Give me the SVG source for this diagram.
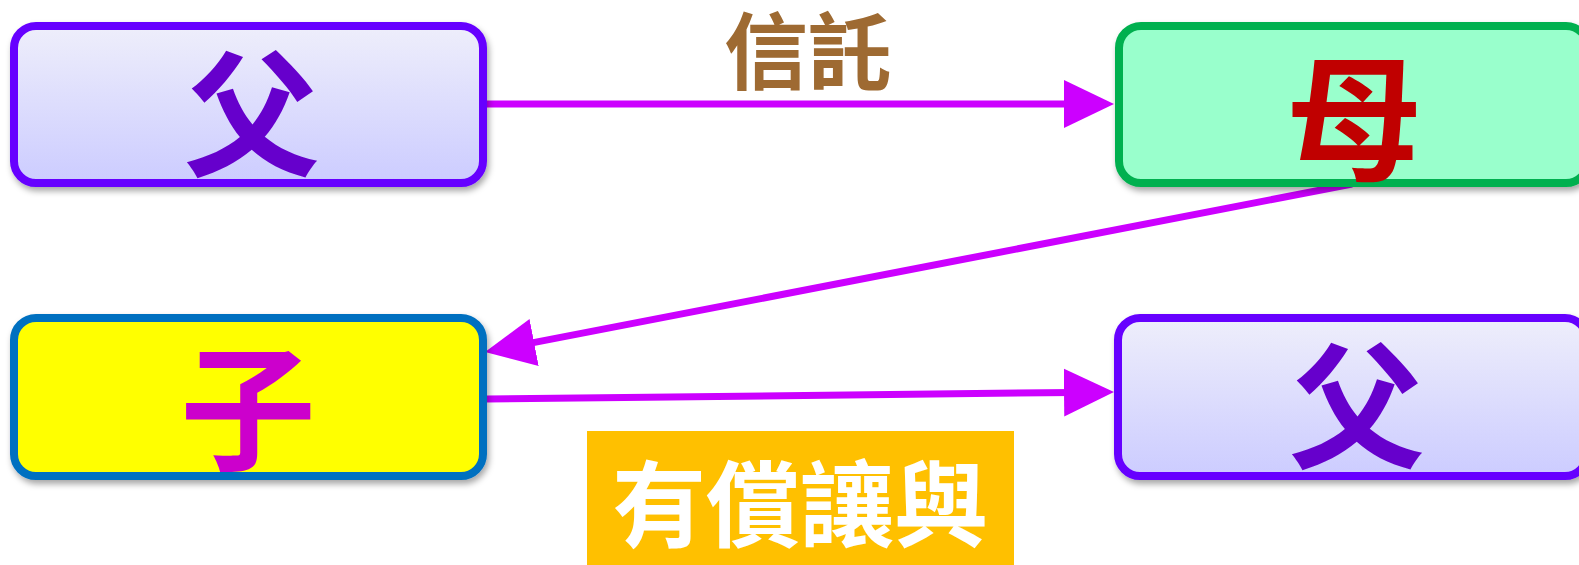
<svg xmlns="http://www.w3.org/2000/svg" width="1579" height="565" viewBox="0 0 1579 565">
<style>
.box{stroke-width:8}
.lav{fill:url(#lavgrad);stroke:#6600FF}
.big{font-family:"Noto Sans CJK TC","Noto Sans CJK SC",sans-serif;font-weight:700;font-size:136px;text-anchor:middle}
.conn{stroke:#CC00FF;stroke-width:7;fill:none}
.lbl{font-family:"Noto Sans CJK TC","Noto Sans CJK SC",sans-serif;font-weight:700;text-anchor:middle}
</style>
<defs>
<linearGradient id="lavgrad" x1="0" y1="0" x2="0" y2="1">
<stop offset="0" stop-color="#EEEEFB"/>
<stop offset="1" stop-color="#CCCCFF"/>
</linearGradient>
<filter id="sh" x="-5%" y="-10%" width="115%" height="130%">
<feDropShadow dx="2" dy="4" stdDeviation="3" flood-color="#000" flood-opacity="0.35"/>
</filter>
<marker id="ah" markerUnits="userSpaceOnUse" markerWidth="52" markerHeight="50" refX="10" refY="24" orient="auto">
<path d="M0,0 L50,24 L0,48 Z" fill="#CC00FF"/>
</marker>
</defs>
<rect width="1579" height="565" fill="#FFFFFF"/>
<g id="connectors">
<line class="conn" x1="487" y1="104" x2="1074" y2="104" marker-end="url(#ah)"/>
<line class="conn" x1="1352" y1="184" x2="524.3" y2="344.4" marker-end="url(#ah)"/>
<line class="conn" x1="487" y1="399" x2="1074" y2="392.4" marker-end="url(#ah)"/>
</g>
<g id="label-trust">
<text class="lbl" x="808" y="83" font-size="84" fill="#9E6A32">信託</text>
</g>
<g id="label-sale">
<rect x="587" y="431" width="427" height="134" fill="#FFC000"/>
<text class="lbl" x="800" y="540" font-size="94" fill="#FFFFFF">有償讓與</text>
</g>
<g id="node-father1" filter="url(#sh)">
<rect class="box lav" x="14" y="26" width="469" height="157" rx="22"/>
<text class="big" x="252" y="166" fill="#6600CC">父</text>
</g>
<g id="node-mother" filter="url(#sh)">
<rect class="box" x="1119" y="26" width="469" height="157" rx="22" fill="#99FFCC" stroke="#00B050"/>
<text class="big" x="1354" y="170" fill="#C00000">母</text>
</g>
<g id="node-child" filter="url(#sh)">
<rect class="box" x="14" y="318" width="469" height="158" rx="22" fill="#FFFF00" stroke="#0070C0"/>
<text class="big" x="248" y="460" fill="#CC00CC">子</text>
</g>
<g id="node-father2" filter="url(#sh)">
<rect class="box lav" x="1118" y="318" width="469" height="158" rx="22"/>
<text class="big" x="1357" y="458" fill="#6600CC">父</text>
</g>
</svg>
